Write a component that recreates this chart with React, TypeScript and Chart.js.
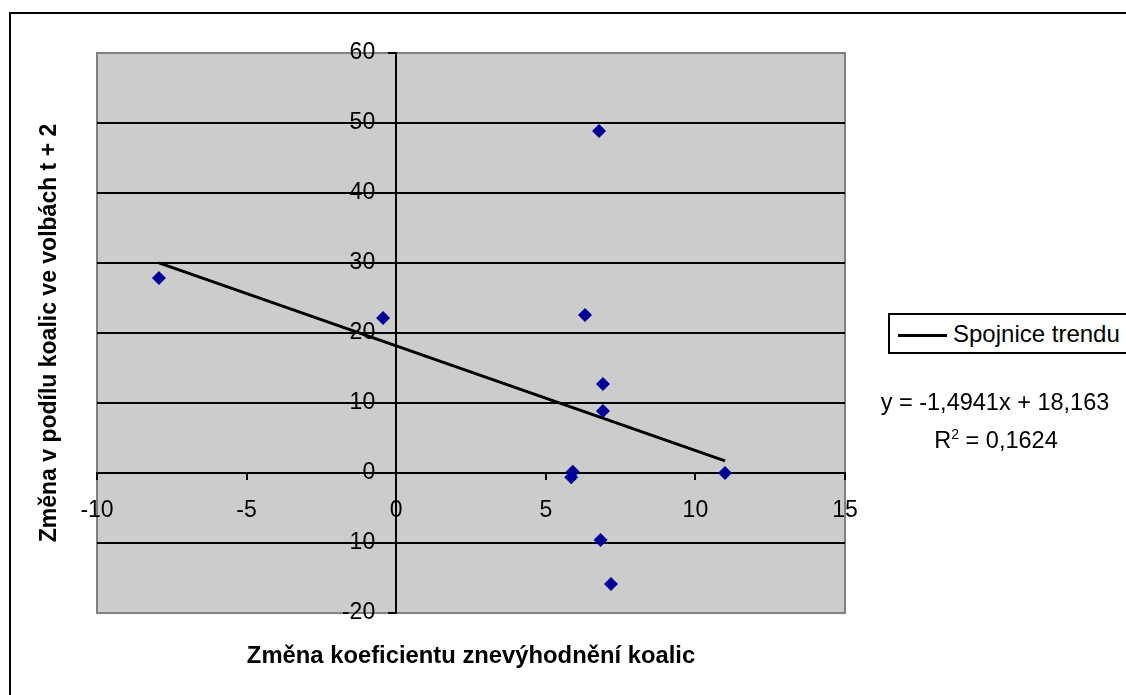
import React, { useEffect, useRef } from "react";
import { Chart, registerables } from "chart.js";

Chart.register(...registerables);

// ---- data ----
const pointX = [-7.93, -0.44, 6.78, 6.31, 6.91, 6.91, 5.9, 5.85, 6.83, 7.18, 10.99];
const pointY = [27.86, 22.14, 48.86, 22.57, 12.71, 8.86, 0.2, -0.6, -9.57, -15.86, 0];
const trendX = [-7.93, 10.99];
const trendY = [30.01, 1.74];
const xTicks = [-10, -5, 0, 5, 10, 15];
const yTicks = [-20, -10, 0, 10, 20, 30, 40, 50, 60];
const xTitle = "Změna koeficientu znevýhodnění koalic";
const yTitle = "Změna v podílu koalic ve volbách t + 2";
const legendLabel = "Spojnice trendu";
const equationText = "y = -1,4941x + 18,163";
const r2Label = "R";
const r2Value = " = 0,1624";

const FONT = "'Liberation Sans', Arial, sans-serif";

const plotBackground = {
  id: "plotBackground",
  beforeDraw(chart: any) {
    const { ctx, chartArea: a } = chart;
    ctx.save();
    ctx.fillStyle = "#cccccc";
    ctx.fillRect(a.left, a.top, a.right - a.left, a.bottom - a.top);
    ctx.strokeStyle = "#808080";
    ctx.lineWidth = 2;
    ctx.strokeRect(a.left, a.top, a.right - a.left, a.bottom - a.top);
    ctx.restore();
  },
};

// y labels of a value-positioned axis sit on the axis line; move them left of the tick marks
const yLabelOffset = {
  id: "yLabelOffset",
  beforeDraw(chart: any) {
    const s: any = chart.scales.y;
    if (!s) return;
    const shift = s.options.grid.tickLength + s.options.ticks.padding;
    const items: any = s.getLabelItems(chart.chartArea);
    if (items && !items.__shifted) {
      items.forEach((it: any) => {
        it.options.translation[0] -= shift;
      });
      items.__shifted = true;
    }
  },
};

export default function App() {
  const ref = useRef<HTMLCanvasElement | null>(null);

  useEffect(() => {
    if (!ref.current) return;
    const yMin = yTicks[0];
    const yMax = yTicks[yTicks.length - 1];
    const chart = new Chart(ref.current, {
      type: "scatter",
      data: {
        datasets: [
          {
            label: "data",
            data: pointX.map((x, i) => ({ x, y: pointY[i] })),
            pointStyle: "rectRot",
            pointRadius: 7,
            pointBackgroundColor: "#000099",
            pointBorderWidth: 0,
            backgroundColor: "#000099",
            borderColor: "#000099",
          },
          {
            label: legendLabel,
            type: "line",
            data: trendX.map((x, i) => ({ x, y: trendY[i] })),
            borderColor: "#000000",
            borderWidth: 3,
            pointRadius: 0,
            fill: false,
          } as any,
        ],
      },
      options: {
        responsive: false,
        animation: false,
        devicePixelRatio: 1,
        layout: { padding: { left: 0, top: 53, right: 281, bottom: 0 } },
        scales: {
          x: {
            type: "linear",
            position: { y: 0 } as any,
            min: xTicks[0],
            max: xTicks[xTicks.length - 1],
            afterBuildTicks: (s: any) => {
              s.ticks = xTicks.map((v) => ({ value: v }));
            },
            grid: {
              display: true,
              drawOnChartArea: false,
              drawTicks: true,
              tickLength: 6,
              tickColor: "#000",
              lineWidth: 2,
              color: "#000",
            },
            border: { display: true, color: "#000", width: 2 },
            ticks: {
              color: "#000",
              padding: 18,
              font: { family: FONT, size: 23 },
              maxRotation: 0,
              autoSkip: false,
              callback: (v: any) => String(v),
            },
          },
          y: {
            type: "linear",
            position: { x: 0 } as any,
            min: yMin,
            max: yMax,
            afterBuildTicks: (s: any) => {
              s.ticks = yTicks.map((v) => ({ value: v }));
            },
            grid: {
              display: true,
              drawOnChartArea: true,
              drawTicks: true,
              tickLength: 7,
              tickColor: "#000",
              lineWidth: 2,
              color: (c: any) =>
                c.tick && (c.tick.value === yMin || c.tick.value === yMax)
                  ? "rgba(0,0,0,0)"
                  : "#000",
            },
            border: { display: true, color: "#000", width: 2 },
            ticks: {
              color: "#000",
              padding: 14,
              font: { family: FONT, size: 23 },
              autoSkip: false,
              callback: (v: any) => String(v),
            },
          },
        },
        plugins: {
          legend: { display: false },
          tooltip: { enabled: false },
          title: {
            display: true,
            text: yTitle,
            position: "left",
            fullSize: false,
            color: "#000",
            font: { family: FONT, size: 23, weight: "bold", lineHeight: 1.2 },
            padding: { top: 36, bottom: 33.4 },
          },
          subtitle: {
            display: true,
            text: xTitle,
            position: "bottom",
            fullSize: false,
            color: "#000",
            font: { family: FONT, size: 23.8, weight: "bold", lineHeight: 1.2 },
            padding: { top: 28.8, bottom: 24.6 },
          },
        },
      },
      plugins: [plotBackground, yLabelOffset],
    });
    return () => chart.destroy();
  }, []);

  return (
    <div
      style={{
        position: "fixed",
        left: 0,
        top: 0,
        width: 1126,
        height: 695,
        overflow: "hidden",
        background: "#fff",
        fontFamily: FONT,
        color: "#000",
      }}
    >
      <div
        style={{
          position: "absolute",
          left: 9,
          top: 12,
          width: 1400,
          height: 1000,
          border: "2px solid #000",
        }}
      />
      <canvas
        ref={ref}
        width={1126}
        height={695}
        style={{ position: "absolute", left: 0, top: 0, width: 1126, height: 695 }}
      />
      <div
        style={{
          position: "absolute",
          left: 888,
          top: 313,
          width: 400,
          height: 41,
          border: "2px solid #000",
          boxSizing: "border-box",
          background: "#fff",
        }}
      />
      <div
        style={{
          position: "absolute",
          left: 898,
          top: 333.5,
          width: 49,
          height: 3,
          background: "#000",
        }}
      />
      <div
        style={{
          position: "absolute",
          left: 953,
          top: 322,
          fontSize: 24,
          lineHeight: "24px",
          whiteSpace: "nowrap",
        }}
      >
        {legendLabel}
      </div>
      <div
        style={{
          position: "absolute",
          left: 845,
          top: 390,
          width: 300,
          textAlign: "center",
          fontSize: 23.5,
          lineHeight: "24px",
          whiteSpace: "nowrap",
        }}
      >
        {equationText}
      </div>
      <div
        style={{
          position: "absolute",
          left: 846,
          top: 427,
          width: 300,
          textAlign: "center",
          fontSize: 23.5,
          lineHeight: "24px",
          whiteSpace: "nowrap",
        }}
      >
        {r2Label}
        <span style={{ fontSize: 14, verticalAlign: "9px", lineHeight: "14px" }}>2</span>
        {r2Value}
      </div>
    </div>
  );
}
